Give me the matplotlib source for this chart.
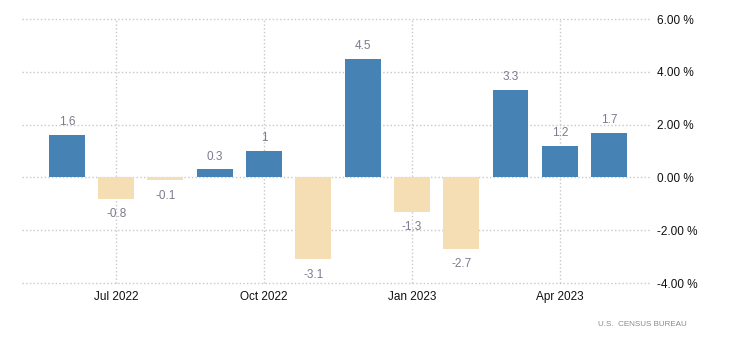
import matplotlib.pyplot as plt

plt.rcParams['font.family'] = ['Liberation Sans', 'DejaVu Sans']

# monthly change, Jun 2022 .. May 2023
months = ["Jun 2022", "Jul 2022", "Aug 2022", "Sep 2022", "Oct 2022", "Nov 2022",
          "Dec 2022", "Jan 2023", "Feb 2023", "Mar 2023", "Apr 2023", "May 2023"]
values = [1.6, -0.8, -0.1, 0.3, 1, -3.1, 4.5, -1.3, -2.7, 3.3, 1.2, 1.7]
tick_months = ["Jul 2022", "Oct 2022", "Jan 2023", "Apr 2023"]
y_ticks = [6, 4, 2, 0, -2, -4]

fig = plt.figure(figsize=(7.31, 3.5), dpi=100)
ax = fig.add_axes([22 / 731, 1 - 283 / 350, (650 - 22) / 731, (283 - 19) / 350])

x = list(range(len(months)))
colors = ["#4682b4" if v >= 0 else "#f5deb3" for v in values]
ax.bar(x, values, width=0.73, color=colors, zorder=2)

for xi, v in zip(x, values):
    lbl = f"{v:g}"
    if v >= 0:
        ax.annotate(lbl, (xi, v), xytext=(0, 5), textcoords="offset points",
                    ha="center", va="bottom", fontsize=8.5, color="#7b7b8e")
    else:
        ax.annotate(lbl, (xi, v), xytext=(0, -7), textcoords="offset points",
                    ha="center", va="top", fontsize=8.5, color="#7b7b8e")

ax.set_xlim(-0.91, 11.83)
ax.set_ylim(-4, 6)
ax.set_xticks([months.index(m) for m in tick_months])
ax.set_xticklabels(tick_months)
ax.set_yticks(y_ticks)
ax.set_yticklabels([f"{t:.2f} %" for t in y_ticks])
ax.yaxis.tick_right()

ax.grid(True, linestyle=":", color="#c8c8c8", linewidth=1, zorder=0)
for gl in ax.get_ygridlines() + ax.get_xgridlines():
    gl.set_clip_on(False)
for s in ax.spines.values():
    s.set_visible(False)
ax.tick_params(axis="both", length=0, labelsize=8.5, colors="#111111")
ax.tick_params(axis="y", pad=5)
ax.tick_params(axis="x", pad=6)

fig.text(598 / 731, 1 - 325 / 350, "U.S.  CENSUS BUREAU", fontsize=5.8,
         color="#8a8a8a", va="center", ha="left")

fig.savefig("out.png", dpi=100)
